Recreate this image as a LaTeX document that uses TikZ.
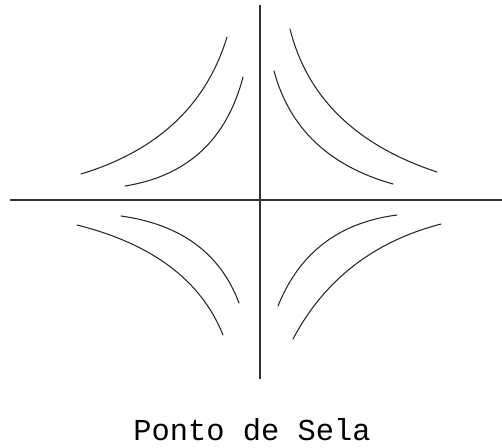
\documentclass[tikz,border=0pt]{standalone}
\usepackage{fontspec}
\newfontfamily\monofont{Liberation Mono}
\tikzset{
axis/.style={
	draw=black!80,
	line width=0.6pt
},
branch/.style={
	draw=black!85,
	line width=0.6pt,
	line cap=round
},
caption/.style={
	font=\monofont\fontsize{17.3}{20}\selectfont,
	inner sep=0pt
}
}
\begin{document}
\begin{tikzpicture}[x=0.02cm, y=-0.02cm]
\useasboundingbox (0,0) rectangle (502,447);

% axes
\coordinate (west) at (10,200);
\coordinate (east) at (502,200);
\coordinate (north) at (260,5);
\coordinate (south) at (260,379);
\draw[axis] (west) -- (east);
\draw[axis] (north) -- (south);

% upper left branches
\draw[branch] (81,174) .. controls (157.7,150.7) and (206.3,105) .. (227,37);
\draw[branch] (125,186) .. controls (187.4,176) and (226.7,139.7) .. (243,77);

% upper right branches
\draw[branch] (290,29) .. controls (307.2,97.7) and (356.2,145.3) .. (437,172);
\draw[branch] (274,71) .. controls (289.5,128.5) and (329.2,166.1) .. (393,184);

% lower left branches
\draw[branch] (77,225) .. controls (152.5,243.9) and (201.2,280.5) .. (223,335);
\draw[branch] (121,216) .. controls (181.1,224.4) and (220.4,253.4) .. (239,303);

% lower right branches
\draw[branch] (397,215) .. controls (338.9,222.5) and (299.3,252.9) .. (278,306);
\draw[branch] (441,224) .. controls (373.7,241.5) and (324.3,279.8) .. (293,339);

\node[caption, anchor=base] (label) at (252,440) {Ponto de Sela};

\end{tikzpicture}
\end{document}
